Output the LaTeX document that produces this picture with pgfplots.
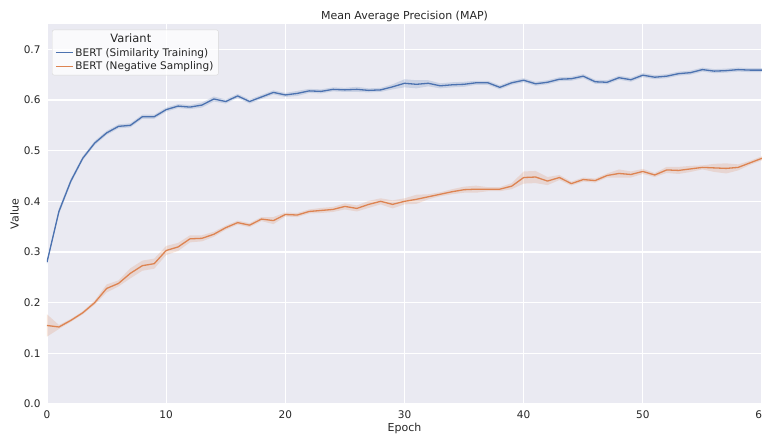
\documentclass[border=0pt]{standalone}
\usepackage{pgfplots}
\pgfplotsset{compat=1.18}
\usepackage{pgfplotstable}
\usepgfplotslibrary{fillbetween}
\usepackage{fontspec}
\setmainfont{DejaVu Sans}
\definecolor{sbblue}{HTML}{4C72B0}
\definecolor{sborange}{HTML}{DD8452}
\definecolor{sbbg}{HTML}{EAEAF2}
\definecolor{sbtext}{HTML}{262626}

\pgfplotstableread{
e m d
0 0.280 0.004
1 0.380 0.006
2 0.440 0.005
3 0.485 0.004
4 0.515 0.004
5 0.535 0.004
6 0.548 0.004
7 0.550 0.004
8 0.567 0.004
9 0.567 0.004
10 0.581 0.004
11 0.588 0.004
12 0.586 0.004
13 0.590 0.005
14 0.602 0.005
15 0.597 0.004
16 0.608 0.004
17 0.597 0.004
18 0.606 0.004
19 0.615 0.004
20 0.610 0.004
21 0.613 0.005
22 0.618 0.004
23 0.617 0.004
24 0.621 0.004
25 0.620 0.004
26 0.621 0.005
27 0.619 0.004
28 0.620 0.004
29 0.626 0.005
30 0.633 0.008
31 0.631 0.008
32 0.633 0.006
33 0.628 0.005
34 0.630 0.005
35 0.631 0.005
36 0.634 0.004
37 0.634 0.004
38 0.625 0.004
39 0.634 0.004
40 0.639 0.004
41 0.632 0.004
42 0.635 0.004
43 0.641 0.004
44 0.642 0.004
45 0.647 0.004
46 0.636 0.004
47 0.635 0.004
48 0.644 0.004
49 0.640 0.004
50 0.649 0.004
51 0.645 0.004
52 0.647 0.004
53 0.652 0.004
54 0.654 0.004
55 0.660 0.004
56 0.657 0.004
57 0.658 0.004
58 0.660 0.004
59 0.659 0.004
60 0.659 0.004
}\simtab

\pgfplotstableread{
e m d
0 0.155 0.022
1 0.152 0.004
2 0.165 0.003
3 0.180 0.003
4 0.200 0.004
5 0.228 0.008
6 0.238 0.006
7 0.258 0.010
8 0.273 0.010
9 0.277 0.010
10 0.303 0.009
11 0.310 0.008
12 0.326 0.007
13 0.327 0.006
14 0.335 0.005
15 0.348 0.004
16 0.358 0.004
17 0.353 0.004
18 0.365 0.004
19 0.362 0.007
20 0.374 0.004
21 0.373 0.004
22 0.380 0.004
23 0.382 0.005
24 0.384 0.005
25 0.390 0.006
26 0.386 0.006
27 0.394 0.007
28 0.400 0.006
29 0.394 0.008
30 0.400 0.006
31 0.404 0.009
32 0.409 0.005
33 0.414 0.004
34 0.419 0.005
35 0.423 0.006
36 0.424 0.007
37 0.424 0.004
38 0.424 0.004
39 0.430 0.006
40 0.447 0.012
41 0.448 0.012
42 0.440 0.008
43 0.447 0.005
44 0.435 0.004
45 0.443 0.004
46 0.441 0.004
47 0.451 0.004
48 0.455 0.008
49 0.453 0.006
50 0.459 0.005
51 0.452 0.004
52 0.462 0.006
53 0.461 0.007
54 0.464 0.006
55 0.467 0.004
56 0.466 0.008
57 0.465 0.010
58 0.467 0.006
59 0.476 0.004
60 0.485 0.004
}\negtab

\begin{document}
\begin{tikzpicture}
\begin{axis}[
  at={(0,0)}, anchor=south west,
  scale only axis, width=715pt, height=380pt,
  xmin=0, xmax=60, ymin=0, ymax=0.75,
  xtick={0,10,20,30,40,50,60},
  ytick={0,0.1,0.2,0.3,0.4,0.5,0.6,0.7},
  /pgf/number format/assume math mode=true,
  major tick length=0pt,
  axis line style={draw=none},
  axis background/.style={fill=sbbg},
  grid=major,
  major grid style={white, line width=1.1pt},
  tick label style={font=\fontsize{10.5}{12}\selectfont, text=sbtext},
  xticklabel style={yshift=-3pt},
  yticklabel style={xshift=-3pt, /pgf/number format/fixed, /pgf/number format/fixed zerofill, /pgf/number format/precision=1},
  label style={font=\fontsize{11}{13}\selectfont, text=sbtext},
  xlabel={Epoch},
  ylabel={Value},
  xlabel style={yshift=2pt},
  ylabel style={yshift=-2pt},
  title={Mean Average Precision (MAP)},
  title style={font=\fontsize{11}{13}\selectfont, text=sbtext, yshift=-7pt},
  legend style={at={(0.007,0.985)}, anchor=north west, fill=white, fill opacity=0.8, text opacity=1, draw=black!15, rounded corners=2pt, font=\fontsize{10.5}{13}\selectfont, text=sbtext, inner xsep=3pt, inner ysep=2pt},
  legend cell align=left,
  legend image post style={line width=1.2pt},
]
\addlegendimage{empty legend}
\addlegendentry{\hspace{35pt}\fontsize{11.5}{13}\selectfont Variant}

\addplot[name path=sh, draw=none, forget plot] table[x=e, y expr=\thisrow{m}+\thisrow{d}] {\simtab};
\addplot[name path=sl, draw=none, forget plot] table[x=e, y expr=\thisrow{m}-\thisrow{d}] {\simtab};
\addplot[fill=sbblue, fill opacity=0.2, draw=none, forget plot] fill between[of=sh and sl];
\addplot[name path=nh, draw=none, forget plot] table[x=e, y expr=\thisrow{m}+\thisrow{d}] {\negtab};
\addplot[name path=nl, draw=none, forget plot] table[x=e, y expr=\thisrow{m}-\thisrow{d}] {\negtab};
\addplot[fill=sborange, fill opacity=0.2, draw=none, forget plot] fill between[of=nh and nl];

\addplot[sbblue, line width=1.3pt, line join=round] table[x=e, y=m] {\simtab};
\addlegendentry{BERT (Similarity Training)}
\addplot[sborange, line width=1.3pt, line join=round] table[x=e, y=m] {\negtab};
\addlegendentry{BERT (Negative Sampling)}
\end{axis}
\pgfresetboundingbox
\useasboundingbox (-47pt,-30pt) rectangle (715pt,404pt);
\end{tikzpicture}
\end{document}
